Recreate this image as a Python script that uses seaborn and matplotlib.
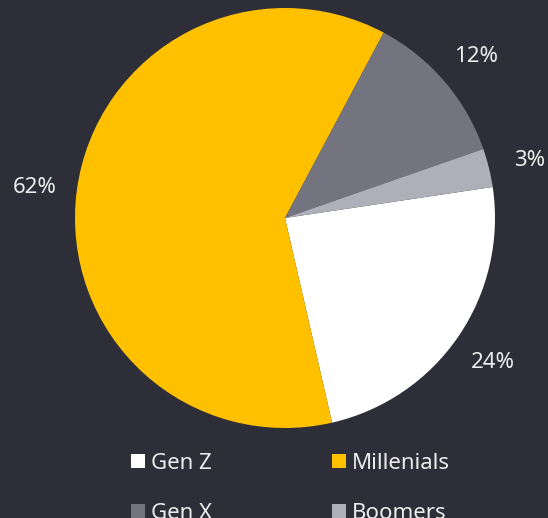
import matplotlib
matplotlib.use("Agg")
import matplotlib.pyplot as plt
import seaborn as sns
from matplotlib.lines import Line2D

categories = ["Gen Z", "Millenials", "Gen X", "Boomers"]
values = [24, 62, 12, 3]
pct_labels = ["24%", "62%", "12%", "3%"]
colors = ["#FFFFFF", "#FFC000", "#747480", "#AFAFBA"]
bg = "#2E2E38"
txt = "#EDEDED"

sns.set_theme(style="dark")
plt.rcParams["font.family"] = ["Noto Sans", "DejaVu Sans"]

fig = plt.figure(figsize=(5.48, 5.18), dpi=100, facecolor=bg)
ax = fig.add_axes([75 / 548, (518 - 428) / 518, 420 / 548, 420 / 518])
ax.set_facecolor(bg)

wedges, texts = ax.pie(values, colors=colors, labels=pct_labels, startangle=8.5,
                       counterclock=False, labeldistance=1.2,
                       wedgeprops=dict(linewidth=0),
                       textprops=dict(color=txt, fontsize=16))
for t in texts:
    t.set_ha("center")
    t.set_va("center_baseline")
ax.set_xlim(-1, 1)
ax.set_ylim(-1, 1)
ax.set_aspect("equal")
ax.axis("off")

# legend laid out row-wise: Gen Z, Millenials / Gen X, Boomers
order = [0, 2, 1, 3]
handles = [Line2D([0], [0], marker="s", linestyle="none", markersize=9.5,
                  markerfacecolor=colors[i], markeredgewidth=0) for i in order]
labels = [categories[i] for i in order]
leg = fig.legend(handles, labels, loc="upper left", bbox_to_anchor=(131 / 548, (518 - 453) / 518),
                 ncol=2, frameon=False, fontsize=16, borderpad=0, borderaxespad=0,
                 handlelength=0.6, handletextpad=0.3, columnspacing=5.4, labelspacing=1.3)
for t in leg.get_texts():
    t.set_color(txt)

fig.savefig("out.png", dpi=100, facecolor=bg)
